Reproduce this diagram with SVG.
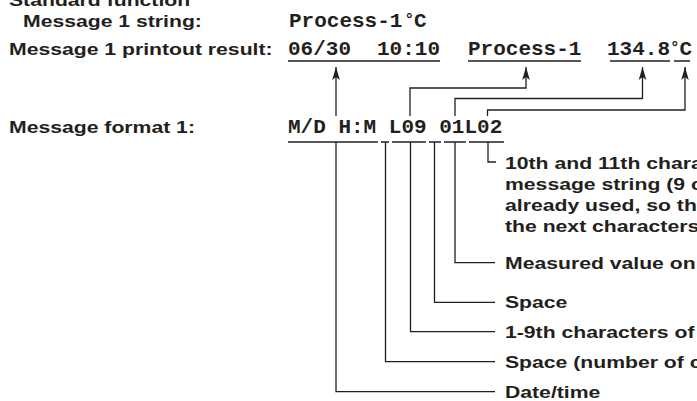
<svg xmlns="http://www.w3.org/2000/svg" width="697" height="401" viewBox="0 0 697 401">
<style>
.lbl{font-family:"Liberation Sans",Arial,sans-serif;font-weight:bold;font-size:16.3px;fill:#231f20}
.mono{font-family:"Liberation Mono","Courier New",monospace;font-weight:bold;font-size:21px;fill:#231f20}
.deg{font-size:16px}
.ln{fill:none;stroke:#231f20;stroke-width:1.3}
</style>
<defs>
<marker id="ah" markerUnits="userSpaceOnUse" markerWidth="16" markerHeight="12" refX="13" refY="5" orient="auto">
<path d="M13,5 L0,1.2 L3,5 L0,8.8 Z" fill="#231f20"/>
</marker>
</defs>
<rect width="697" height="401" fill="#ffffff"/>
<g id="labels-left">
<text class="lbl" transform="translate(9,6) scale(1.3,1)">Standard function</text>
<text class="lbl" transform="translate(23,26.5) scale(1.3,1)">Message 1 string:</text>
<text class="lbl" transform="translate(9,54.5) scale(1.3,1)">Message 1 printout result:</text>
<text class="lbl" transform="translate(9,133) scale(1.3,1)">Message format 1:</text>
</g>
<g id="string">
<text class="mono" y="26.5"><tspan x="289">Process-1</tspan><tspan class="deg" x="404.5" dy="-1.5">°</tspan><tspan x="414" dy="1.5">C</tspan></text>
</g>
<g id="printout">
<text class="mono" y="54.5"><tspan x="288">06/30</tspan><tspan x="377">10:10</tspan><tspan x="468">Process-1</tspan><tspan x="607">134.8</tspan><tspan class="deg" x="670" dy="-1.5">°</tspan><tspan x="679.6" dy="1.5">C</tspan></text>
<path class="ln" d="M288,61H440M468,61H581M610,61H670M674,61H690"/>
</g>
<g id="format">
<text class="mono" x="288" y="133">M/D H:M L09 01L02</text>
<path class="ln" d="M288,142H378M381,142H389M392,142H426M429,142H441M444,142H466M469,142H504"/>
</g>
<g id="labels-right">
<text class="lbl" transform="translate(505,169) scale(1.3,1)">10th and 11th chara</text>
<text class="lbl" transform="translate(505,190) scale(1.3,1)">message string (9 c</text>
<text class="lbl" transform="translate(505,211) scale(1.3,1)">already used, so th</text>
<text class="lbl" transform="translate(505,232) scale(1.3,1)">the next characters</text>
<text class="lbl" transform="translate(505,268.5) scale(1.3,1)">Measured value on</text>
<text class="lbl" transform="translate(505,308) scale(1.3,1)">Space</text>
<text class="lbl" transform="translate(505,337.5) scale(1.3,1)">1-9th characters of</text>
<text class="lbl" transform="translate(505,367.5) scale(1.3,1)">Space (number of c</text>
<text class="lbl" transform="translate(505,397.5) scale(1.3,1)">Date/time</text>
</g>
<g id="connectors">
<path class="ln" marker-end="url(#ah)" d="M336,116V67"/>
<path class="ln" marker-end="url(#ah)" d="M410,116V88H526V67"/>
<path class="ln" marker-end="url(#ah)" d="M455,116V98.5H642.5V67"/>
<path class="ln" marker-end="url(#ah)" d="M487.5,116V110H685V67"/>
<path class="ln" d="M488,142V162H496"/>
<path class="ln" d="M455,142V262.7H495"/>
<path class="ln" d="M434.5,142V302.3H495"/>
<path class="ln" d="M410.5,142V331.7H495"/>
<path class="ln" d="M385.5,142V361.7H495"/>
<path class="ln" d="M336,142V391.7H495"/>
</g>
</svg>
